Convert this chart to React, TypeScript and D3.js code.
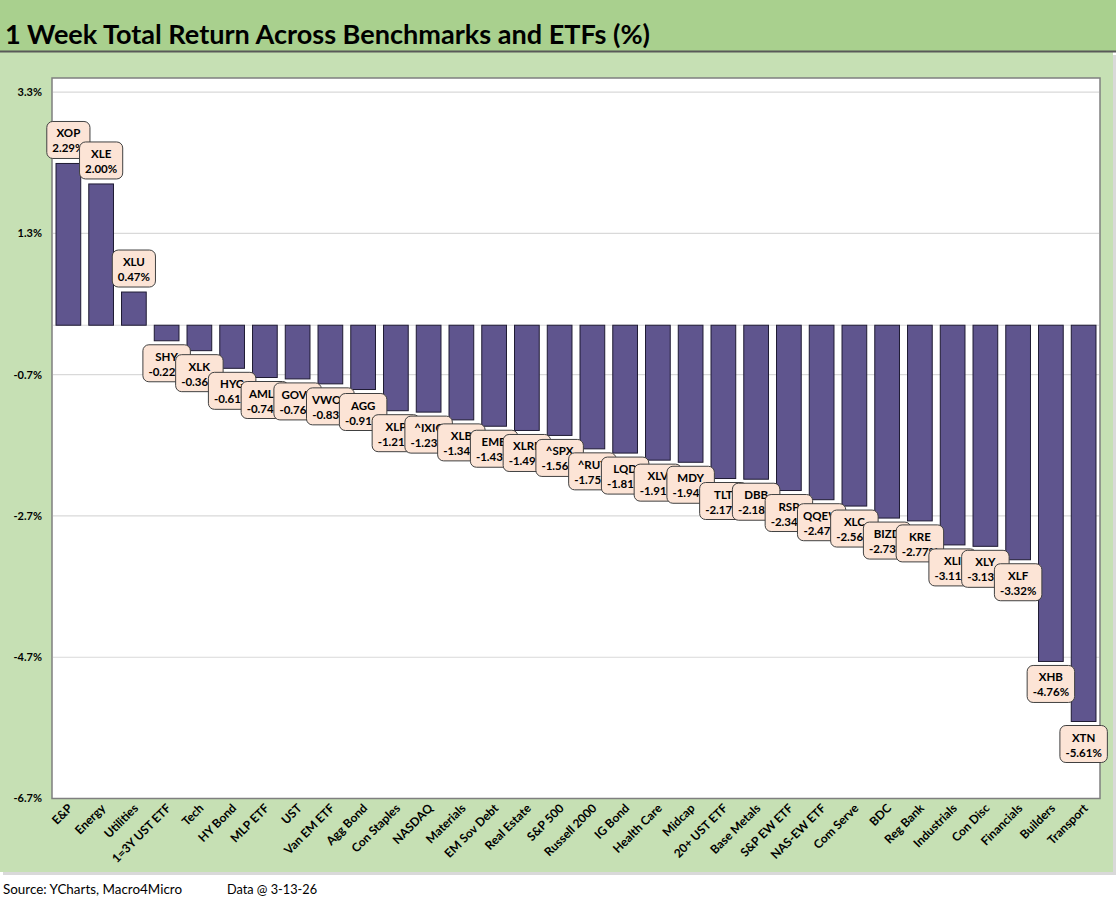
import React, { useEffect, useRef } from "react";
import * as d3 from "d3";

const categories = [
  "E&P", "Energy", "Utilities", "1=3Y UST ETF", "Tech", "HY Bond", "MLP ETF", "UST",
  "Van EM ETF", "Agg Bond", "Con Staples", "NASDAQ", "Materials", "EM Sov Debt",
  "Real Estate", "S&P 500", "Russell 2000", "IG Bond", "Health Care", "Midcap",
  "20+ UST ETF", "Base Metals", "S&P EW ETF", "NAS-EW ETF", "Com Serve", "BDC",
  "Reg Bank", "Industrials", "Con Disc", "Financials", "Builders", "Transport",
];
const tickers = [
  "XOP", "XLE", "XLU", "SHY", "XLK", "HYG", "AMLP", "GOVT", "VWOB", "AGG", "XLP",
  "^IXIC", "XLB", "EMB", "XLRE", "^SPX", "^RUT", "LQD", "XLV", "MDY", "TLT", "DBB",
  "RSP", "QQEW", "XLC", "BIZD", "KRE", "XLI", "XLY", "XLF", "XHB", "XTN",
];
const returns = [
  2.29, 2.0, 0.47, -0.22, -0.36, -0.61, -0.74, -0.76, -0.83, -0.91, -1.21, -1.23,
  -1.34, -1.43, -1.49, -1.56, -1.75, -1.81, -1.91, -1.94, -2.17, -2.18, -2.34,
  -2.47, -2.56, -2.73, -2.77, -3.11, -3.13, -3.32, -4.76, -5.61,
];
const yTicks = [-6.7, -4.7, -2.7, -0.7, 1.3, 3.3];
const title = "1 Week Total Return Across Benchmarks and ETFs (%)";
const source = "Source: YCharts, Macro4Micro";
const dataNote = "Data @ 3-13-26";

const W = 1116;
const H = 911;
const FONT = "Lato, 'Open Sans', sans-serif";

const fmt = (digits: number) => (v: number) => v.toFixed(digits) + "%";

export default function App() {
  const ref = useRef<SVGSVGElement | null>(null);

  useEffect(() => {
    const svg = d3.select(ref.current);
    svg.selectAll("*").remove();

    const plot = { left: 52, right: 1100, top: 78, bottom: 798.5 };

    // backgrounds
    svg.append("rect").attr("x", 0).attr("y", 0).attr("width", W).attr("height", H).attr("fill", "#ffffff");
    svg.append("rect").attr("x", 3).attr("y", 55).attr("width", 1113).attr("height", 820).attr("fill", "#d9d9d9");
    svg.append("rect").attr("x", 0).attr("y", 52).attr("width", 1113).attr("height", 820).attr("fill", "#c6e0b4");
    svg.append("rect").attr("x", 0).attr("y", 0).attr("width", W).attr("height", 51).attr("fill", "#a9d08e");
    svg.append("line").attr("x1", 0).attr("x2", W).attr("y1", 51.5).attr("y2", 51.5).attr("stroke", "#595959").attr("stroke-width", 2);

    svg.append("text").attr("x", 5).attr("y", 44).attr("font-family", FONT)
      .attr("font-weight", "bold").attr("font-size", 26).attr("fill", "#000").text(title)
      .attr("textLength", 645).attr("lengthAdjust", "spacingAndGlyphs");

    // plot area
    svg.append("rect").attr("x", plot.left).attr("y", plot.top)
      .attr("width", plot.right - plot.left).attr("height", plot.bottom - plot.top)
      .attr("fill", "#ffffff").attr("stroke", "#7f7f7f").attr("stroke-width", 1.5);

    const x = d3.scaleBand<string>().domain(categories).range([plot.left, plot.right])
      .paddingInner(0.245).paddingOuter(0.1225);
    const y = d3.scaleLinear().domain([-6.7, 3.5]).range([plot.bottom, plot.top]);

    // gridlines
    svg.append("g").selectAll("line").data(yTicks.filter((d) => d > -6.7)).join("line")
      .attr("x1", plot.left + 1).attr("x2", plot.right - 1)
      .attr("y1", (d) => y(d)).attr("y2", (d) => y(d))
      .attr("stroke", "#d9d9d9").attr("stroke-width", 1.2);
    svg.append("line").attr("x1", plot.left + 1).attr("x2", plot.right - 1)
      .attr("y1", y(0)).attr("y2", y(0)).attr("stroke", "#d9d9d9").attr("stroke-width", 1);

    // y tick labels
    svg.append("g").selectAll("text").data(yTicks).join("text")
      .attr("x", 42).attr("y", (d) => y(d)).attr("dy", "0.35em")
      .attr("text-anchor", "end").attr("font-family", FONT).attr("font-weight", "bold")
      .attr("font-size", 11).attr("fill", "#000")
      .text((d) => fmt(1)(d));

    // bars
    svg.append("g").selectAll("rect").data(returns).join("rect")
      .attr("x", (_, i) => x(categories[i])!)
      .attr("width", x.bandwidth())
      .attr("y", (d) => y(Math.max(0, d)))
      .attr("height", (d) => Math.abs(y(d) - y(0)))
      .attr("fill", "#5f558e").attr("stroke", "#1f1b33").attr("stroke-width", 1);

    // x labels
    svg.append("g").selectAll("text").data(categories).join("text")
      .attr("transform", (d) => `translate(${x(d)! + x.bandwidth() / 2 + 5},${809}) rotate(-45)`)
      .attr("text-anchor", "end").attr("font-family", FONT).attr("font-weight", "bold")
      .attr("font-size", 12).attr("fill", "#000").text((d) => d);

    // data labels
    const lg = svg.append("g");
    returns.forEach((v, i) => {
      const cx = x(categories[i])! + x.bandwidth() / 2;
      const g = lg.append("g");
      const rect = g.append("rect");
      const l1 = g.append("text").attr("text-anchor", "middle").attr("font-family", FONT)
        .attr("font-weight", "bold").attr("font-size", 11.5).attr("fill", "#000").text(tickers[i]);
      const l2 = g.append("text").attr("text-anchor", "middle").attr("font-family", FONT)
        .attr("font-weight", "bold").attr("font-size", 11.5).attr("fill", "#000")
        .text(fmt(2)(v));
      const tw = Math.max(
        (l1.node() as SVGTextElement).getComputedTextLength(),
        (l2.node() as SVGTextElement).getComputedTextLength()
      );
      const bw = tw + 11;
      const bh = 37;
      const top = v >= 0 ? y(v) - 5 - bh : y(v) + 4;
      rect.attr("x", cx - bw / 2).attr("y", top).attr("width", bw).attr("height", bh)
        .attr("rx", 6).attr("ry", 6).attr("fill", "#fce4d6").attr("stroke", "#404040").attr("stroke-width", 1);
      l1.attr("x", cx).attr("y", top + 16);
      l2.attr("x", cx).attr("y", top + 31);
    });

    // footer
    svg.append("text").attr("x", 3).attr("y", 894).attr("font-family", FONT)
      .attr("font-size", 13).attr("fill", "#000").text(source)
      .attr("textLength", 179).attr("lengthAdjust", "spacingAndGlyphs");
    svg.append("text").attr("x", 227).attr("y", 894).attr("font-family", FONT)
      .attr("font-size", 13).attr("fill", "#000").text(dataNote)
      .attr("textLength", 90).attr("lengthAdjust", "spacingAndGlyphs");
  }, []);

  return (
    <svg ref={ref} width={W} height={H}
      style={{ position: "absolute", left: 0, top: 0, display: "block" }} />
  );
}
